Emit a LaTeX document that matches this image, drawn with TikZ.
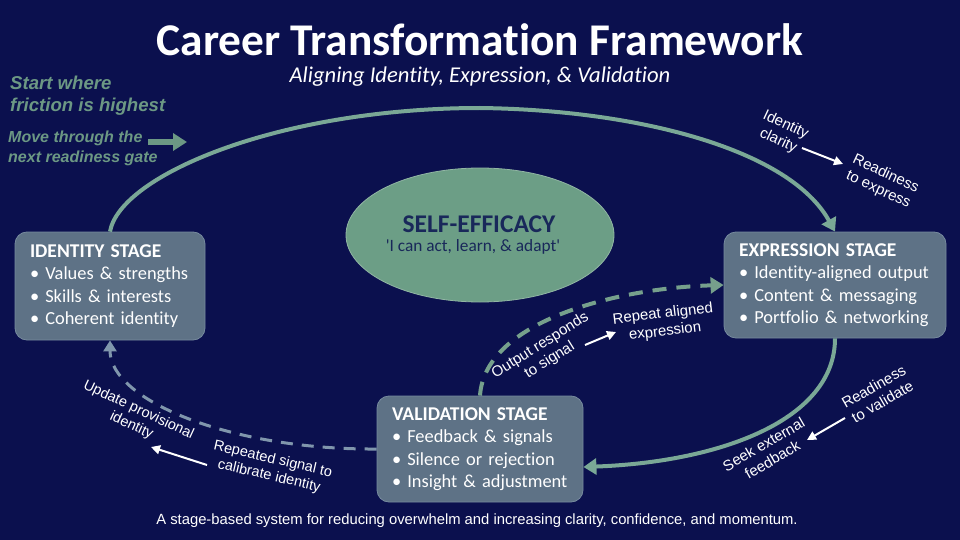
\documentclass[tikz,border=0pt]{standalone}
\usepackage{fontspec}
\setmainfont{Carlito}[Ligatures={TeX,NoCommon}]
\newfontfamily\cq{Carlito}[Ligatures={TeXOff,NoCommon}]
\newfontfamily\arial{Liberation Sans}
\usetikzlibrary{arrows.meta,shapes.geometric,calc}
\definecolor{bg}{RGB}{11,16,78}
\definecolor{boxc}{RGB}{94,114,134}
\definecolor{boxb}{RGB}{118,138,158}
\definecolor{ellc}{RGB}{108,158,134}
\definecolor{ellt}{RGB}{25,40,90}
\definecolor{arcc}{RGB}{122,168,150}
\definecolor{dashg}{RGB}{118,160,140}
\definecolor{dashb}{RGB}{128,150,172}
\definecolor{lgreen}{RGB}{108,152,132}
\tikzset{
  x=1pt,y=-1pt,
  stagebox/.style={rectangle,rounded corners=12pt,fill=boxc,draw=boxb,line width=0.8pt,
    text=white,align=left,inner xsep=15pt,inner ysep=0pt,
    font=\fontsize{18.4}{22.5}\selectfont},
  stagehead/.style={font=\bfseries\fontsize{19.5}{22.5}\selectfont},
  lbl/.style={text=white,align=center,font=\arial\fontsize{15}{17.5}\selectfont,inner sep=0pt},
  mainarc/.style={draw=arcc,line width=4pt,-{Triangle[width=16pt,length=13pt]}},
  whitearrow/.style={draw=white,line width=2pt,-{Triangle[width=9pt,length=9pt]}},
}
\newcommand{\hd}[1]{{\bfseries\fontsize{19.5}{22.5}\selectfont #1}}
\begin{document}
\begin{tikzpicture}
\fill[bg] (0,0) rectangle (960,540);
\useasboundingbox (0,0) rectangle (960,540);

% titles
\node[text=white,font=\bfseries\fontsize{45.4}{48}\selectfont,inner sep=0pt] (title) at (480,40) {Career Transformation Framework};
\node[text=white,font=\itshape\fontsize{22.6}{24}\selectfont,inner sep=0pt] (subtitle) at (480,77) {Aligning Identity, Expression, \& Validation};

% left notes
\node[anchor=north west,text=lgreen,align=left,inner sep=0pt,font=\arial\bfseries\itshape\fontsize{18.6}{22}\selectfont] (start) at (10,76) {Start where\\friction is highest};
\node[anchor=north west,text=lgreen,align=left,inner sep=0pt,font=\arial\bfseries\itshape\fontsize{16}{19.5}\selectfont] (move) at (8,131) {Move through the\\next readiness gate};
\coordinate (g1) at (148,142);
\coordinate (g2) at (187,142);
\draw[draw=lgreen,line width=6pt,-{Triangle[width=17pt,length=14pt]}] (g1) -- (g2);

% ellipse
\node[ellipse,fill=ellc,draw=ellc!75!white,line width=0.8pt,minimum width=268pt,minimum height=134pt] (self) at (480,235) {};
\node[text=ellt,font=\bfseries\fontsize{25.5}{27}\selectfont,inner sep=0pt] (selft) at (479,224) {SELF-EFFICACY};
\node[text=ellt,font=\cq\fontsize{17.3}{19}\selectfont,inner sep=0pt] (selfs) at (473,247) {'I can act, learn, \& adapt'};

% stage boxes
\node[stagebox,minimum width=190pt,minimum height=108pt,text width=160pt] (id) at (110,286)
 {\hd{IDENTITY STAGE}\\• Values \& strengths\\• Skills \& interests\\• Coherent identity};
\node[stagebox,minimum width=222pt,minimum height=106pt,text width=192pt] (exp) at (835,285)
 {\hd{EXPRESSION STAGE}\\• Identity-aligned output\\• Content \& messaging\\• Portfolio \& networking};
\node[stagebox,minimum width=206pt,minimum height=106pt,text width=176pt] (val) at (480,449)
 {\hd{VALIDATION STAGE}\\• Feedback \& signals\\• Silence or rejection\\• Insight \& adjustment};

% main arcs
\draw[mainarc] (id.north) .. controls (120,175) and (280,108) .. (480,108)
  .. controls (640,110) and (790,150) .. (exp.north);
\draw[mainarc] (exp.south) .. controls (835,420) and (720,462) .. ($(val.east)+(0,18)$);
\draw[draw=dashb,line width=3pt,dash pattern=on 12pt off 9pt,-{Triangle[width=13pt,length=11pt]}]
  (val.west) .. controls (230,450) and (110,400) .. (id.south);
\draw[draw=dashg,line width=4pt,dash pattern=on 14pt off 10pt,-{Triangle[width=16pt,length=13pt]}]
  (val.north) .. controls (485,320) and (620,288) .. (exp.west);

% labels
\node[lbl,rotate=-25] (ic) at (782,133) {Identity\\clarity};
\node[lbl,rotate=-25] (re) at (882,182) {Readiness\\to express};
\coordinate (a1s) at (802,148);
\coordinate (a1e) at (843,164);
\draw[whitearrow] (a1s) -- (a1e);

\node[lbl,rotate=32] (ors) at (545,353) {Output responds\\to signal};
\node[lbl,rotate=7] (rae) at (664,323) {Repeat aligned\\expression};
\coordinate (a2s) at (585,345);
\coordinate (a2e) at (616,332);
\draw[whitearrow] (a2s) -- (a2e);

\node[lbl,font=\arial\fontsize{14.5}{17}\selectfont,rotate=-25] (upi) at (135,418) {Update provisional\\identity};
\node[lbl,font=\arial\fontsize{14.5}{17}\selectfont,rotate=-13] (rsc) at (271,468) {Repeated signal to\\calibrate identity};
\coordinate (a3s) at (207,465);
\coordinate (a3e) at (151,447);
\draw[whitearrow] (a3s) -- (a3e);

\node[lbl,rotate=30] (sef) at (768,452) {Seek external\\feedback};
\node[lbl,rotate=30] (rtv) at (878,394) {Readiness\\to validate};
\coordinate (a4s) at (845,418);
\coordinate (a4e) at (807,440);
\draw[whitearrow] (a4s) -- (a4e);

% caption
\node[text=white,font=\arial\fontsize{14.8}{16}\selectfont,inner sep=0pt] (cap) at (477,521) {A stage-based system for reducing overwhelm and increasing clarity, confidence, and momentum.};
\end{tikzpicture}
\end{document}
